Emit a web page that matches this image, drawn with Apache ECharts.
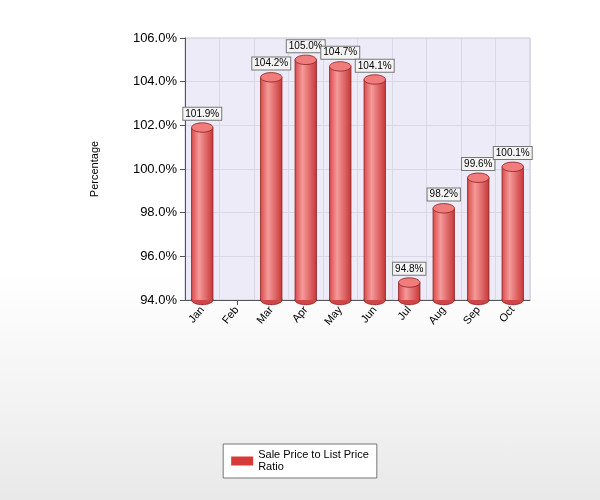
<!DOCTYPE html>
<html><head><meta charset="utf-8">
<script src="https://cdn.jsdelivr.net/npm/echarts@6/dist/echarts.min.js"></script>
<style>html,body{margin:0;padding:0;}#c{width:600px;height:500px;background:linear-gradient(#ffffff 0%,#ffffff 55%,#e9e9e9 100%);}</style>
</head><body><div id="c"></div>
<script>
const categories = ['Jan','Feb','Mar','Apr','May','Jun','Jul','Aug','Sep','Oct'];
const values = [101.9, null, 104.2, 105.0, 104.7, 104.1, 94.8, 98.2, 99.6, 100.1];
const yMin = 94, yMax = 106, yStep = 2;
const seriesName = 'Sale Price to List Price\nRatio';

const chart = echarts.init(document.getElementById('c'));
chart.setOption({
  animation: false,
  grid: {left: 185, right: 70, top: 38, bottom: 200, show: true, backgroundColor: '#ecebf7', borderColor: '#c8c8d8'},
  legend: {
    bottom: 22, left: 'center', data: [seriesName], itemWidth: 22, itemHeight: 9, icon: 'rect',
    borderColor: '#777', borderWidth: 1, backgroundColor: '#fff', padding: [5, 8],
    textStyle: {fontSize: 11, fontFamily: 'Liberation Sans', color: '#000', lineHeight: 12}
  },
  xAxis: {
    type: 'category', data: categories,
    axisLine: {lineStyle: {color: '#555'}}, axisTick: {show: true, alignWithLabel: true, lineStyle: {color: '#555'}},
    axisLabel: {rotate: 50, color: '#000', fontSize: 11, fontFamily: 'Liberation Sans'},
    splitLine: {show: true, lineStyle: {color: '#d8d8e6'}}
  },
  yAxis: {
    type: 'value', min: yMin, max: yMax, interval: yStep,
    name: 'Percentage', nameLocation: 'middle', nameGap: 85, nameRotate: 90,
    nameTextStyle: {fontSize: 11, fontFamily: 'Liberation Sans', color: '#000'},
    axisLine: {show: true, lineStyle: {color: '#555'}}, axisTick: {show: true, lineStyle: {color: '#555'}},
    axisLabel: {formatter: v => v.toFixed(1) + '%', color: '#000', fontSize: 13, fontFamily: 'Liberation Sans'},
    splitLine: {show: true, lineStyle: {color: '#d8d8e6'}}
  },
  series: [{
    type: 'custom', name: seriesName,
    itemStyle: {color: '#d83a3a'},
    data: values.map((v, i) => [i, v]),
    renderItem: function (params, api) {
      const v = api.value(1);
      if (v == null || isNaN(v)) return;
      const top = api.coord([api.value(0), v]);
      const base = api.coord([api.value(0), yMin]);
      const w = api.size([1, 0])[0] * 0.62;
      const rx = w / 2, ry = w * 0.22;
      const x = top[0] - rx;
      const grad = new echarts.graphic.LinearGradient(0, 0, 1, 0, [
        {offset: 0, color: '#d94c4c'}, {offset: 0.35, color: '#f59a9a'}, {offset: 1, color: '#c83838'}]);
      return {type: 'group', children: [
        {type: 'ellipse', shape: {cx: top[0], cy: base[1], rx: rx, ry: ry}, style: {fill: '#d04545', stroke: '#8a2020', lineWidth: 0.8}},
        {type: 'rect', shape: {x: x, y: top[1], width: w, height: base[1] - top[1]}, style: {fill: grad, stroke: null}},
        {type: 'line', shape: {x1: x, y1: top[1], x2: x, y2: base[1]}, style: {stroke: '#8a2020', lineWidth: 0.8}},
        {type: 'line', shape: {x1: x + w, y1: top[1], x2: x + w, y2: base[1]}, style: {stroke: '#8a2020', lineWidth: 0.8}},
        {type: 'ellipse', shape: {cx: top[0], cy: top[1], rx: rx, ry: ry}, style: {fill: '#f07c7c', stroke: '#8a2020', lineWidth: 0.8}},
        {type: 'text', x: top[0], y: top[1] - ry - 3, style: {
          text: v.toFixed(1) + '%', align: 'center', verticalAlign: 'bottom', fontSize: 10, fontFamily: 'Liberation Sans',
          fill: '#000', backgroundColor: '#f4f4f4', borderColor: '#777', borderWidth: 1, padding: [1, 2]}}
      ]};
    }
  }]
});
</script></body></html>
